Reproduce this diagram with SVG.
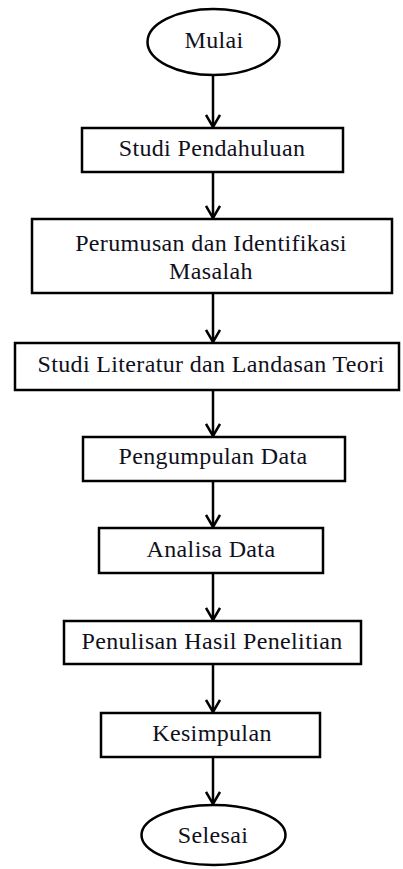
<svg xmlns="http://www.w3.org/2000/svg" width="403" height="869" viewBox="0 0 403 869">
<style>
  .shape { fill: #ffffff; stroke: #000000; stroke-width: 2.5; }
  .label { font-family: "Liberation Serif", "Times New Roman", serif; font-size: 24px; letter-spacing: 0.35px; fill: #10101c; text-anchor: middle; }
  .conn { stroke: #000000; stroke-width: 2.5; fill: none; marker-end: url(#arrow); }
</style>
<defs>
  <marker id="arrow" viewBox="-14 -8 16 16" refX="0" refY="0" markerWidth="16" markerHeight="16" markerUnits="userSpaceOnUse" orient="auto">
    <path d="M-12,-7 L0,0 L-12,7" fill="none" stroke="#000000" stroke-width="2.5"/>
  </marker>
</defs>
<rect width="403" height="869" fill="#ffffff"/>
<g id="connectors">
  <line class="conn" x1="213" y1="75" x2="213" y2="127"/>
  <line class="conn" x1="213" y1="172" x2="213" y2="218"/>
  <line class="conn" x1="213" y1="293" x2="213" y2="342"/>
  <line class="conn" x1="213" y1="390" x2="213" y2="436"/>
  <line class="conn" x1="213" y1="481" x2="213" y2="527"/>
  <line class="conn" x1="213" y1="573" x2="213" y2="620"/>
  <line class="conn" x1="213" y1="664" x2="213" y2="712"/>
  <line class="conn" x1="213" y1="757" x2="213" y2="804"/>
</g>
<g id="mulai">
  <ellipse class="shape" cx="213.5" cy="42" rx="66" ry="33"/>
  <text class="label" x="214" y="48">Mulai</text>
</g>
<g id="studi-pendahuluan">
  <rect class="shape" x="82" y="128" width="261" height="44"/>
  <text class="label" x="212" y="156">Studi Pendahuluan</text>
</g>
<g id="perumusan">
  <rect class="shape" x="32" y="219" width="360" height="74"/>
  <text class="label" x="211" y="251">Perumusan dan Identifikasi</text>
  <text class="label" x="211" y="279">Masalah</text>
</g>
<g id="studi-literatur">
  <rect class="shape" x="15" y="343" width="384" height="47"/>
  <text class="label" x="211" y="372">Studi Literatur dan Landasan Teori</text>
</g>
<g id="pengumpulan-data">
  <rect class="shape" x="83" y="437" width="262" height="44"/>
  <text class="label" x="213" y="464">Pengumpulan Data</text>
</g>
<g id="analisa-data">
  <rect class="shape" x="99" y="528" width="224" height="45"/>
  <text class="label" x="211" y="557">Analisa Data</text>
</g>
<g id="penulisan">
  <rect class="shape" x="64" y="621" width="297" height="43"/>
  <text class="label" x="212" y="649">Penulisan Hasil Penelitian</text>
</g>
<g id="kesimpulan">
  <rect class="shape" x="101" y="713" width="219" height="44"/>
  <text class="label" x="212" y="741">Kesimpulan</text>
</g>
<g id="selesai">
  <ellipse class="shape" cx="213.5" cy="835" rx="72" ry="30"/>
  <text class="label" x="213" y="843">Selesai</text>
</g>
</svg>
